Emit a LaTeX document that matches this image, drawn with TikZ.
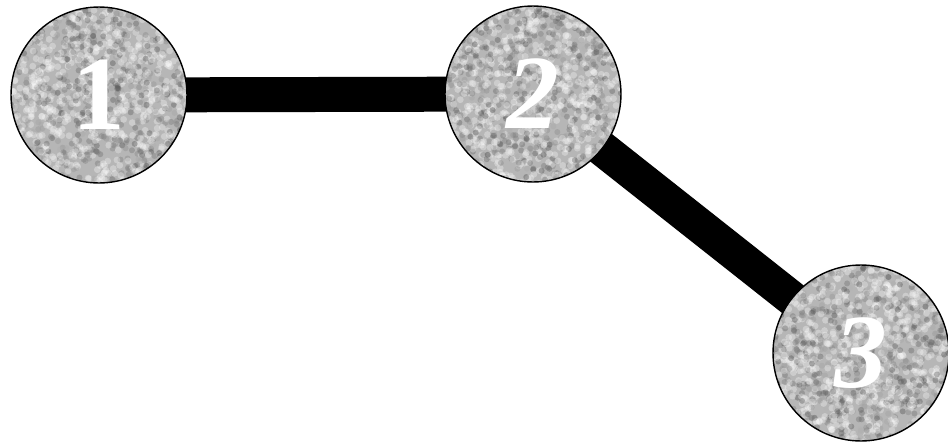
\documentclass[tikz,border=0pt]{standalone}
\usepackage{fontspec}
\setmainfont{Liberation Serif}
\usepackage{xcolor}
\usetikzlibrary{backgrounds}
\definecolor{ballgray}{RGB}{182,182,182}

\begin{document}
\begin{tikzpicture}[x=0.02cm, y=-0.02cm,
  ball/.style={circle, draw=black, line width=0.8pt, fill=ballgray,
               minimum size=3.52cm, inner sep=0pt, text=white,
               font=\fontsize{60}{60}\selectfont\bfseries,
               path picture={
                 \foreach \k in {1,...,700}{
                   \pgfmathsetmacro\tone{int(30+40*rnd)}
                   \fill[black!\tone, opacity=0.4] ([shift={(rand*90,rand*90)}]path picture bounding box.center) circle (3);
                   \fill[white, opacity=0.3] ([shift={(rand*90,rand*90)}]path picture bounding box.center) circle (3.4);
                 }}},
  bar/.style={line width=0.7cm, draw=black}
]
\pgfmathsetseed{4711}
\useasboundingbox (0,0) rectangle (948,443);

\node[ball] (one)   at (99,95)   {\upshape 1};
\node[ball] (two)   at (533,94)  {\itshape 2};
\node[ball] (three) at (861,353) {\itshape 3};

\begin{scope}[on background layer]
  \draw[bar] (one.center) -- (two.center);
  \draw[bar] (two.center) -- (three.center);
\end{scope}

\end{tikzpicture}
\end{document}
